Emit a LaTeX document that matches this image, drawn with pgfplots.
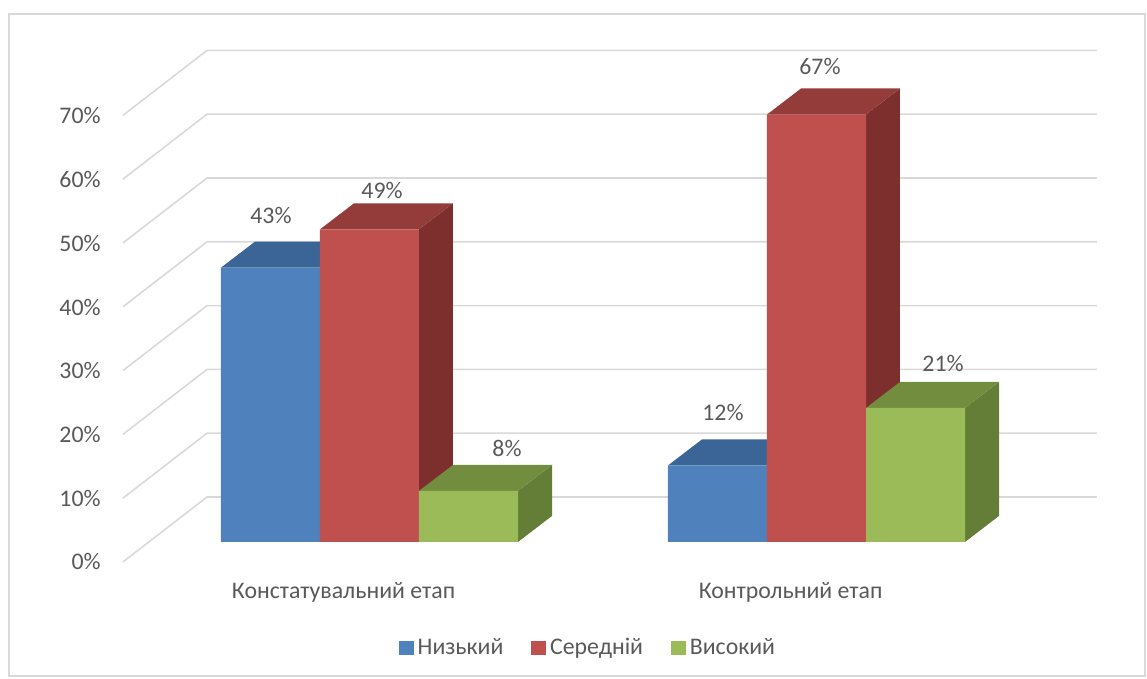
\documentclass[border=0pt]{standalone}
\usepackage{pgfplots}
\pgfplotsset{compat=1.18}
\usepackage{pgfplotstable}
\usepackage{fontspec}
\setmainfont{Carlito}
\definecolor{txt}{HTML}{595959}
\definecolor{grd}{HTML}{D9D9D9}
\definecolor{bF}{HTML}{4F81BD}
\definecolor{bT}{HTML}{3A6596}
\definecolor{bS}{HTML}{345A87}
\definecolor{rF}{HTML}{C0504D}
\definecolor{rT}{HTML}{943C3A}
\definecolor{rS}{HTML}{7D2F2D}
\definecolor{gF}{HTML}{9BBB59}
\definecolor{gT}{HTML}{728D3E}
\definecolor{gS}{HTML}{657E37}
\newcommand{\fs}{\fontsize{11.9}{14}\selectfont}

\pgfplotstableread{
x v
0 43
1 12
}\lowtab
\pgfplotstableread{
x v
0 49
1 67
}\midtab
\pgfplotstableread{
x v
0 8
1 21
}\hightab

\begin{document}
\begin{tikzpicture}
\begin{axis}[
  x=223.5pt, y=3.19pt,
  xmin=-0.8266, xmax=1.7394, ymin=-21.47, ymax=84.95,
  clip=false,
  axis line style={draw=none},
  tick style={draw=none},
  xtick={-0.058,0.942},
  xticklabels={Констатувальний етап, Контрольний етап},
  xticklabel style={anchor=center, yshift=43.5pt, font=\fs, text=txt},
  ytick={-3.13,6.86,16.85,26.84,36.83,46.82,56.81,66.80},
  yticklabels={0\%,10\%,20\%,30\%,40\%,50\%,60\%,70\%},
  yticklabel style={anchor=east, inner sep=0pt, xshift=50.5pt, font=\fs, text=txt},
  legend style={at={(axis cs:0.491,-16.61)}, anchor=center, draw=none, fill=none,
    legend columns=3, font=\fs, text=txt,
    /tikz/every even column/.append style={column sep=12pt}},
  legend image code/.code={\fill[#1] (0pt,-3.6pt) rectangle (7.4pt,3.6pt);},
  /pgf/number format/assume math mode=true,
]
% border
\draw[grd, line width=0.8pt] (axis cs:-0.8065,82.76) rectangle (axis cs:1.7349,-21.0);
% gridlines: side wall diagonal + back wall
\addplot[grd, line width=0.8pt, mark=none, forget plot] coordinates {(-0.5515,-3.13) (-0.3635,7.05) (1.6275,7.05)};
\addplot[grd, line width=0.8pt, mark=none, forget plot] coordinates {(-0.5515,6.87) (-0.3635,17.05) (1.6275,17.05)};
\addplot[grd, line width=0.8pt, mark=none, forget plot] coordinates {(-0.5515,16.87) (-0.3635,27.05) (1.6275,27.05)};
\addplot[grd, line width=0.8pt, mark=none, forget plot] coordinates {(-0.5515,26.87) (-0.3635,37.05) (1.6275,37.05)};
\addplot[grd, line width=0.8pt, mark=none, forget plot] coordinates {(-0.5515,36.87) (-0.3635,47.05) (1.6275,47.05)};
\addplot[grd, line width=0.8pt, mark=none, forget plot] coordinates {(-0.5515,46.87) (-0.3635,57.05) (1.6275,57.05)};
\addplot[grd, line width=0.8pt, mark=none, forget plot] coordinates {(-0.5515,56.87) (-0.3635,67.05) (1.6275,67.05)};
\addplot[grd, line width=0.8pt, mark=none, forget plot] coordinates {(-0.5515,66.87) (-0.3635,77.05) (1.6275,77.05)};
% 3D sides and tops (group 1)
\addplot[fill=bS, draw=none, mark=none, forget plot] coordinates {(-0.1107,0) (-0.1107,43) (-0.0346,47.08) (-0.0346,4.08)} -- cycle;
\addplot[fill=bT, draw=none, mark=none, forget plot] coordinates {(-0.3322,43) (-0.1107,43) (-0.0346,47.08) (-0.2561,47.08)} -- cycle;
\addplot[fill=rS, draw=none, mark=none, forget plot] coordinates {(0.1107,0) (0.1107,49) (0.1868,53.08) (0.1868,4.08)} -- cycle;
\addplot[fill=rT, draw=none, mark=none, forget plot] coordinates {(-0.1107,49) (0.1107,49) (0.1868,53.08) (-0.0346,53.08)} -- cycle;
\addplot[fill=gS, draw=none, mark=none, forget plot] coordinates {(0.3322,0) (0.3322,8) (0.4083,12.08) (0.4083,4.08)} -- cycle;
\addplot[fill=gT, draw=none, mark=none, forget plot] coordinates {(0.1107,8) (0.3322,8) (0.4083,12.08) (0.1868,12.08)} -- cycle;
% group 2
\addplot[fill=bS, draw=none, mark=none, forget plot] coordinates {(0.8893,0) (0.8893,12) (0.9654,16.08) (0.9654,4.08)} -- cycle;
\addplot[fill=bT, draw=none, mark=none, forget plot] coordinates {(0.6678,12) (0.8893,12) (0.9654,16.08) (0.7439,16.08)} -- cycle;
\addplot[fill=rS, draw=none, mark=none, forget plot] coordinates {(1.1107,0) (1.1107,67) (1.1868,71.08) (1.1868,4.08)} -- cycle;
\addplot[fill=rT, draw=none, mark=none, forget plot] coordinates {(0.8893,67) (1.1107,67) (1.1868,71.08) (0.9654,71.08)} -- cycle;
\addplot[fill=gS, draw=none, mark=none, forget plot] coordinates {(1.3322,0) (1.3322,21) (1.4083,25.08) (1.4083,4.08)} -- cycle;
\addplot[fill=gT, draw=none, mark=none, forget plot] coordinates {(1.1107,21) (1.3322,21) (1.4083,25.08) (1.1868,25.08)} -- cycle;
% front faces
\addplot[ybar, bar width=0.2215, draw=none, fill=bF, bar shift=-0.2215] table[x=x, y=v] {\lowtab};
\addlegendentry{Низький}
\addplot[ybar, bar width=0.2215, draw=none, fill=rF, bar shift=0] table[x=x, y=v] {\midtab};
\addlegendentry{Середній}
\addplot[ybar, bar width=0.2215, draw=none, fill=gF, bar shift=0.2215] table[x=x, y=v] {\hightab};
\addlegendentry{Високий}
% data labels
\addplot[draw=none, mark=none, forget plot, point meta=explicit,
  nodes near coords={\pgfmathprintnumber{\pgfplotspointmeta}\%},
  every node near coord/.append style={anchor=center, font=\fs, text=txt}]
  coordinates {(-0.2204,51.25) [43] (0.028,55.17) [49] (0.3076,14.58) [8]
               (0.7908,20.22) [12] (1.0078,74.45) [67] (1.2831,27.90) [21]};
\end{axis}
\end{tikzpicture}
\end{document}
